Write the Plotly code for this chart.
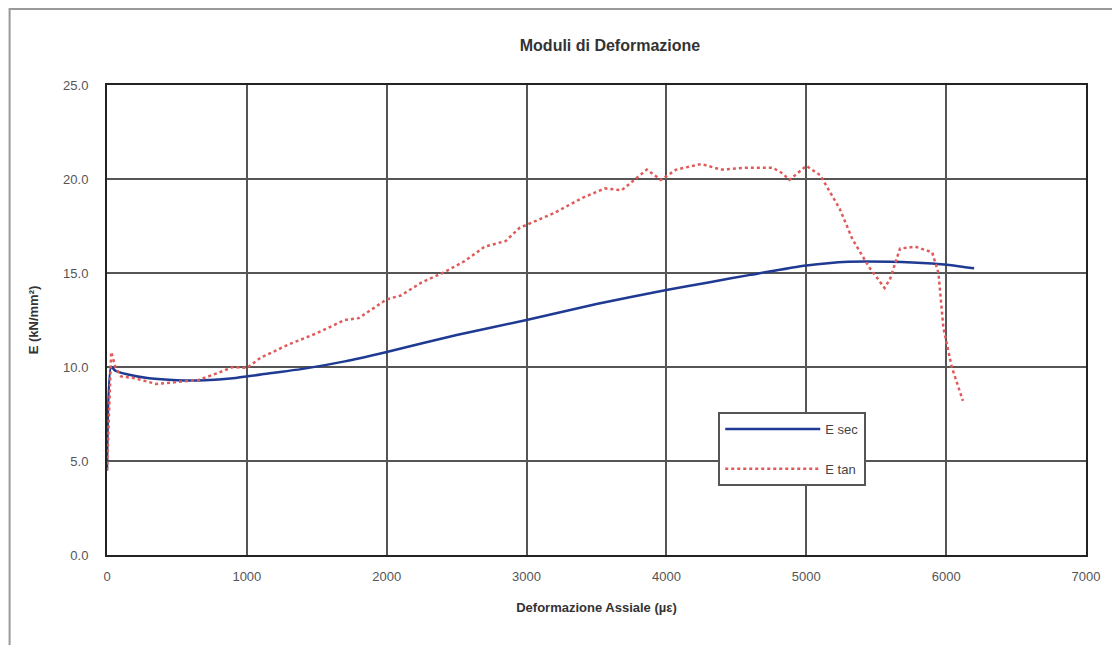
import plotly.graph_objects as go

# E sec (secant modulus)
sec_x = [0, 30, 60, 150, 300, 500, 700, 900, 1100, 1400, 1700, 2000, 2500, 3000,
         3500, 4000, 4300, 4600, 5000, 5300, 5600, 5900, 6100, 6200]
sec_y = [4.5, 10.0, 9.8, 9.6, 9.4, 9.3, 9.3, 9.4, 9.6, 9.9, 10.3, 10.8, 11.7, 12.5,
         13.35, 14.1, 14.5, 14.9, 15.4, 15.6, 15.6, 15.5, 15.35, 15.25]

# E tan (tangent modulus)
tan_x = [0, 30, 60, 100, 200, 350, 500, 650, 800, 900, 1000, 1100, 1300, 1500, 1700,
         1800, 2000, 2100, 2250, 2400, 2550, 2700, 2850, 2950, 3200, 3400, 3560, 3680,
         3860, 3960, 4030, 4070, 4250, 4390, 4570, 4760, 4830, 4880, 5000, 5100, 5240,
         5330, 5450, 5560, 5600, 5670, 5780, 5900, 5945, 5980, 6040, 6120]
tan_y = [4.5, 10.8, 10.0, 9.5, 9.4, 9.1, 9.2, 9.3, 9.7, 10.0, 9.95, 10.5, 11.2, 11.8, 12.5,
         12.6, 13.6, 13.8, 14.5, 15.0, 15.6, 16.4, 16.7, 17.4, 18.2, 19.0, 19.5, 19.4,
         20.5, 19.95, 20.3, 20.5, 20.8, 20.5, 20.6, 20.6, 20.3, 19.95, 20.7, 20.2, 18.4,
         16.8, 15.3, 14.2, 14.7, 16.3, 16.4, 16.1, 15.0, 12.1, 10.0, 8.2]

series_names = ["E sec", "E tan"]
x_ticks = [0, 1000, 2000, 3000, 4000, 5000, 6000, 7000]
y_ticks = [0, 5, 10, 15, 20, 25]

FONT = "Liberation Sans, Arial, sans-serif"

fig = go.Figure()
fig.add_trace(go.Scatter(x=sec_x, y=sec_y, mode="lines", name=series_names[0],
                         legendgroup="a",
                         line=dict(color="#1f3a93", width=2.5, shape="spline", smoothing=0.6)))
fig.add_trace(go.Scatter(x=tan_x, y=tan_y, mode="lines", name=series_names[1],
                         legendgroup="b",
                         line=dict(color="#e05a5a", width=2.5, dash="dot")))

# page body has an 8px margin; figure coordinates = target coordinates - 8
OFF = 8
W, H = 1104, 637
L, T = 107 - OFF, 85 - OFF
pw, ph = 985, 470
R = W - L - pw
B = H - T - ph

fig.update_layout(
    width=W, height=H,
    margin=dict(l=L, r=R, t=T, b=B),
    paper_bgcolor="white", plot_bgcolor="white",
    font=dict(family=FONT, size=12, color="#444"),
    title=dict(text="<b>Moduli di Deformazione</b>", x=(610 - OFF) / W, xanchor="center",
               y=1 - (45 - OFF) / H, yanchor="middle", font=dict(size=16, color="#333")),
    xaxis=dict(range=[0, 7000], tickvals=x_ticks, ticktext=[str(v) for v in x_ticks],
               showgrid=True, gridcolor="#555", gridwidth=2,
               showline=True, linecolor="#222", linewidth=2, mirror=True,
               ticks="outside", ticklen=8, tickcolor="rgba(0,0,0,0)", zeroline=False,
               title=dict(text="<b>Deformazione Assiale (µε)</b>", standoff=20,
                          font=dict(size=13, color="#333")),
               tickfont=dict(size=13, color="#555")),
    yaxis=dict(range=[0, 25], tickvals=y_ticks, tickformat=".1f",
               showgrid=True, gridcolor="#555", gridwidth=2,
               showline=True, linecolor="#222", linewidth=2, mirror=True,
               ticks="outside", ticklen=14, tickcolor="rgba(0,0,0,0)", zeroline=False,
               title=dict(text="<b>E (kN/mm²)</b>", standoff=22,
                          font=dict(size=13, color="#333")),
               tickfont=dict(size=13, color="#555")),
    legend=dict(x=(722 - 107) / pw, y=(555 - 412) / ph, xanchor="left", yanchor="top",
                bgcolor="white", bordercolor="#555", borderwidth=2,
                font=dict(size=13, color="#444"),
                traceorder="grouped", tracegroupgap=20, itemwidth=95),
    showlegend=True,
)

# outer frame of the chart area
fig.add_shape(type="rect", xref="paper", yref="paper",
              x0=(1 - L) / pw, x1=(W + 10 - L) / pw,
              y0=(T + ph - H - 10) / ph, y1=(T + ph - 1) / ph,
              line=dict(color="#999", width=2), layer="below")

fig.write_html("out.html")
